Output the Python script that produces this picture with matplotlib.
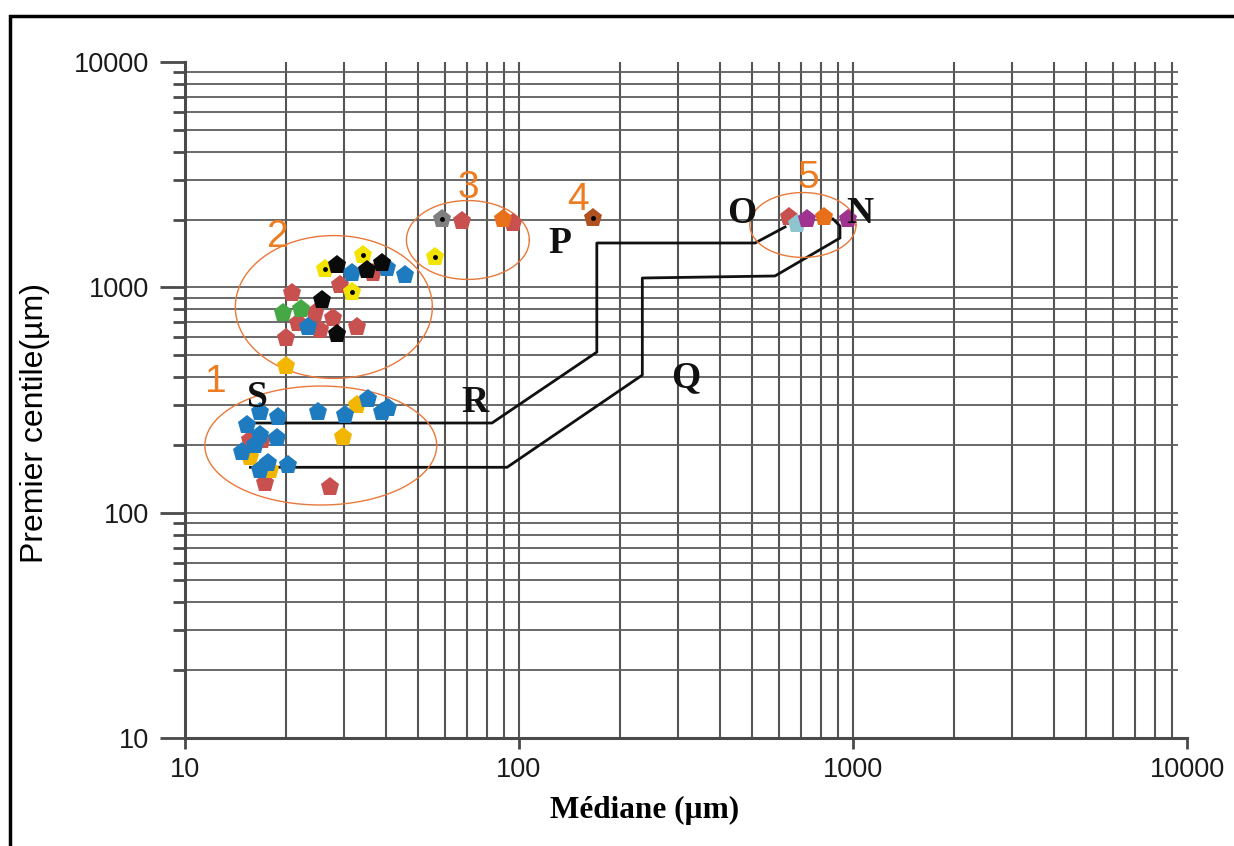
import numpy as np
import matplotlib.pyplot as plt
from matplotlib.patches import Rectangle
from matplotlib.ticker import FixedLocator, NullFormatter

# Passega C-M diagram: median (µm) vs first percentile (µm)

# samples, grouped by symbol colour
red_x = [15.7, 17.0, 17.4, 27.2, 20.9, 29.1, 36.6, 24.5, 27.7, 21.8, 32.7, 20.1, 25.4, 67.5, 95.9]
red_y = [210, 210, 135, 130, 944, 1024, 1158, 769, 731, 695, 667, 596, 647, 1970, 1930]
green_x = [19.7, 22.2]
green_y = [769, 801]
gold_x = [32.7, 29.7, 15.7, 18.0, 20.1]
gold_y = [300, 217, 177, 155, 448]
blue_x = [16.8, 19.0, 25.0, 30.1, 35.3, 40.5, 38.9, 15.3, 16.8, 18.9, 14.8, 16.2,
          17.7, 16.8, 20.3, 31.6, 40.3, 45.6, 23.4]
blue_y = [280, 266, 280, 271, 319, 291, 280, 245, 221, 214, 186, 200,
          166, 155, 163, 1158, 1218, 1134, 667]
yellow_x = [26.3, 34.1, 31.6, 56.0]
yellow_y = [1206, 1392, 953, 1363]
black_x = [28.5, 35.1, 38.9, 25.7, 28.5]
black_y = [1256, 1194, 1282, 879, 621]
gray_x = [58.8]
gray_y = [2010]
orange_x = [89.6, 819]
orange_y = [2010, 2052]
brown_x = [166.6]
brown_y = [2032]
cyan_x = [679]
cyan_y = [1910]
magenta_x = [728, 966]
magenta_y = [2010, 2010]
red5_x = [643]
red5_y = [2052]

# C-M limits of the tractive-current field
upper_x = [15.1, 83.0, 171, 171, 509, 626]
upper_y = [250, 250, 516, 1573, 1573, 1853]
lower_x = [15.7, 92.1, 234, 234, 584, 914, 914, 871]
lower_y = [159, 159, 408, 1100, 1123, 1655, 1872, 2010]

# segment letters
seg_labels = ['S', 'R', 'Q', 'P', 'O', 'N']
seg_x = [16.5, 73.8, 316, 132.7, 465, 1050]
seg_y = [323, 307, 396, 1573, 2137, 2137]

# sample groups: number position, ellipse centre and half-axes (decades)
grp_labels = ['1', '2', '3', '4', '5']
grp_num_x = [12.4, 19.0, 70.3, 150.2, 733]
grp_num_y = [380, 1673, 2759, 2441, 3056]
ell_x = [25.5, 27.9, 70.3, 708]
ell_y = [198.6, 818, 1622, 1891]
ell_a = [0.347, 0.295, 0.184, 0.159]
ell_b = [0.264, 0.317, 0.175, 0.144]

fig = plt.figure(figsize=(12.34, 8.46), dpi=100)
ax = fig.add_axes([185 / 1234, 1 - 738 / 846, 1002 / 1234, 676 / 846])
ax.set_xscale('log')
ax.set_yscale('log')
ax.set_xlim(10, 10000)
ax.set_ylim(10, 10000)

# log-paper grid
grid_vals = [m * 10 ** k for k in (1, 2, 3) for m in range(1, 10)][1:]
ax.vlines(grid_vals, 10, 10000, color='#555555', lw=1.5, zorder=1)
ax.hlines(grid_vals, 10, 9400, color='#5e5e5e', lw=1.3, zorder=1)

for s in ('top', 'right'):
    ax.spines[s].set_visible(False)
for s in ('left', 'bottom'):
    ax.spines[s].set_color('#4a4a4a')
    ax.spines[s].set_linewidth(2.2)

ax.xaxis.set_major_locator(FixedLocator([10, 100, 1000, 10000]))
ax.xaxis.set_minor_locator(FixedLocator([]))
ax.set_xticklabels(['10', '100', '1000', '10000'])
ax.yaxis.set_major_locator(FixedLocator([10, 100, 1000, 10000]))
ax.yaxis.set_minor_locator(FixedLocator(grid_vals))
ax.yaxis.set_minor_formatter(NullFormatter())
ax.set_yticklabels(['10', '100', '1000', '10000'])
ax.tick_params(axis='x', which='major', length=8, width=2, color='#4a4a4a',
               pad=6, labelsize=19.5)
ax.tick_params(axis='y', which='major', length=18, width=2, color='#4a4a4a',
               pad=8, labelsize=19.5)
ax.tick_params(axis='y', which='minor', length=9, width=2, color='#4a4a4a')
for lab in ax.get_xticklabels() + ax.get_yticklabels():
    lab.set_family('Liberation Sans')
    lab.set_color('#1a1a1a')

# C-M boundary lines
ax.plot(upper_x, upper_y, color='#111111', lw=2, zorder=3)
ax.plot(lower_x, lower_y, color='#111111', lw=2, zorder=3)

# group ellipses (drawn in log space)
t = np.linspace(0, 2 * np.pi, 200)
for cx, cy, a, b in zip(ell_x, ell_y, ell_a, ell_b):
    ax.plot(10 ** (np.log10(cx) + a * np.cos(t)), 10 ** (np.log10(cy) + b * np.sin(t)),
            color='#e8793a', lw=1, zorder=4)

mk = dict(marker='p', ls='none', ms=14, mew=0, zorder=5)
ax.plot(red_x, red_y, color='#c8504f', **mk)
ax.plot(red5_x, red5_y, color='#c8504f', **mk)
ax.plot(green_x, green_y, color='#45a845', **mk)
ax.plot(gold_x, gold_y, color='#f3b600', **mk)
ax.plot(blue_x, blue_y, color='#1f7bc0', **mk)
ax.plot(yellow_x, yellow_y, color='#f2e400', **mk)
ax.plot(black_x, black_y, color='#0a0a0a', **mk)
ax.plot(gray_x, gray_y, color='#7f7f7f', **mk)
ax.plot(orange_x, orange_y, color='#e8701a', **mk)
ax.plot(brown_x, brown_y, color='#b0521f', **mk)
ax.plot(cyan_x, cyan_y, color='#8ec6cf', **mk)
ax.plot(magenta_x, magenta_y, color='#a0338f', **mk)
# centre dots on the dotted symbols
dot_x = yellow_x + gray_x + brown_x
dot_y = yellow_y + gray_y + brown_y
ax.plot(dot_x, dot_y, marker='o', ls='none', ms=2.5, color='black', zorder=6)

for lab, x, y in zip(seg_labels, seg_x, seg_y):
    ax.text(x, y, lab, family='Liberation Serif', fontweight='bold', fontsize=27,
            ha='center', va='center', color='#111111', zorder=7)
for lab, x, y in zip(grp_labels, grp_num_x, grp_num_y):
    ax.text(x, y, lab, family='Liberation Sans', fontsize=28,
            ha='center', va='center', color='#ee7d22', zorder=7)

fig.text(35 / 1234, 1 - 423 / 846, 'Premier centile(µm)', rotation=90,
         family='Liberation Sans', fontsize=23, ha='center', va='center')
fig.text(645 / 1234, 1 - 810 / 846, 'Médiane (µm)', family='Liberation Serif',
         fontweight='bold', fontsize=22.5, ha='center', va='center')

# outer frame
fig.patches.append(Rectangle((10 / 1234, -0.1), 1.1, 0.1 + 1 - 16.5 / 846,
                             transform=fig.transFigure, fill=False,
                             lw=2.5, edgecolor='black'))

fig.savefig('out.png', dpi=100)
